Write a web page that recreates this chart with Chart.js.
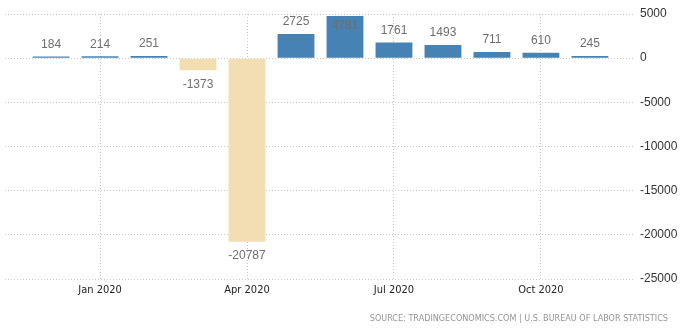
<!DOCTYPE html>
<html>
<head>
<meta charset="utf-8">
<script src="https://cdn.jsdelivr.net/npm/chart.js@4"></script>
<style>
html,body{margin:0;padding:0;background:#fff;}
#wrap{width:685px;height:328px;}
</style>
</head>
<body>
<div id="wrap"><canvas id="c" width="685" height="328"></canvas></div>
<script>
const categories = ["Dec 2019","Jan 2020","Feb 2020","Mar 2020","Apr 2020","May 2020","Jun 2020","Jul 2020","Aug 2020","Sep 2020","Oct 2020","Nov 2020"];
const values = [184, 214, 251, -1373, -20787, 2725, 4781, 1761, 1493, 711, 610, 245];
const tickIndex = [1, 4, 7, 10];
const tickLabels = ["Jan 2020", "Apr 2020", "Jul 2020", "Oct 2020"];
const yTicks = [5000, 0, -5000, -10000, -15000, -20000, -25000];
const sourceText = "SOURCE: TRADINGECONOMICS.COM | U.S. BUREAU OF LABOR STATISTICS";

const POS = "#4682b4", NEG = "#f3ddb3";
const FONT = "'Liberation Sans', Arial, sans-serif";
const COND = "'DejaVu Sans Condensed', 'DejaVu Sans', sans-serif";

const labelPlugin = {
  id: "barLabels",
  afterDatasetsDraw(chart) {
    const ctx = chart.ctx;
    const meta = chart.getDatasetMeta(0);
    const area = chart.chartArea;
    ctx.save();
    ctx.font = "12px " + FONT;
    ctx.fillStyle = "#6e6e6e";
    ctx.textAlign = "center";
    ctx.textBaseline = "middle";
    meta.data.forEach((bar, i) => {
      const v = values[i];
      let y;
      if (v >= 0) {
        y = bar.y - 12;
        if (y < area.top + 6) y = bar.y + 10;
      } else {
        y = bar.y + 14;
      }
      ctx.fillText(String(v), bar.x, y);
    });
    ctx.restore();
  }
};

const sourcePlugin = {
  id: "sourceNote",
  afterDraw(chart) {
    const ctx = chart.ctx;
    ctx.save();
    ctx.font = "9px " + COND;
    ctx.fillStyle = "#959595";
    ctx.textAlign = "right";
    ctx.textBaseline = "middle";
    ctx.fillText(sourceText, chart.width - 17, 319);
    ctx.restore();
  }
};

new Chart(document.getElementById("c"), {
  type: "bar",
  data: {
    labels: categories,
    datasets: [{
      data: values.map((v, i) => ({x: i, y: v})),
      backgroundColor: values.map(v => v >= 0 ? POS : NEG),
      borderWidth: 0,
      barPercentage: 0.94,
      categoryPercentage: 0.8
    }]
  },
  options: {
    responsive: false,
    animation: false,
    layout: {padding: {left: 5, right: 0, top: 14, bottom: 25}},
    plugins: {
      legend: {display: false},
      tooltip: {enabled: false},
      title: {display: false}
    },
    scales: {
      x: {
        type: "linear",
        offset: false,
        min: -0.94,
        max: 11.92,
        afterBuildTicks(scale) {
          scale.ticks = tickIndex.map(v => ({value: v}));
        },
        afterFit(scale) { scale.height = 24; },
        ticks: {
          autoSkip: false,
          maxRotation: 0,
          padding: 5,
          color: "#222",
          font: {family: COND, size: 11},
          callback: (v) => {
            const k = tickIndex.indexOf(v);
            return k >= 0 ? tickLabels[k] : "";
          }
        },
        grid: {
          offset: false,
          color: "#c8c8c8",
          lineWidth: 1,
          drawTicks: false
        },
        border: {display: false, dash: [1, 2]}
      },
      y: {
        position: "right",
        min: -25000,
        max: 5000,
        afterBuildTicks(scale) {
          scale.ticks = yTicks.map(v => ({value: v}));
        },
        afterFit(scale) { scale.width = 50; },
        ticks: {
          padding: 5,
          color: "#333",
          font: {family: FONT, size: 12},
          callback: (v) => String(v)
        },
        grid: {
          color: "#c8c8c8",
          lineWidth: 1,
          drawTicks: false
        },
        border: {display: false, dash: [1, 2]}
      }
    }
  },
  plugins: [labelPlugin, sourcePlugin]
});
</script>
</body>
</html>
